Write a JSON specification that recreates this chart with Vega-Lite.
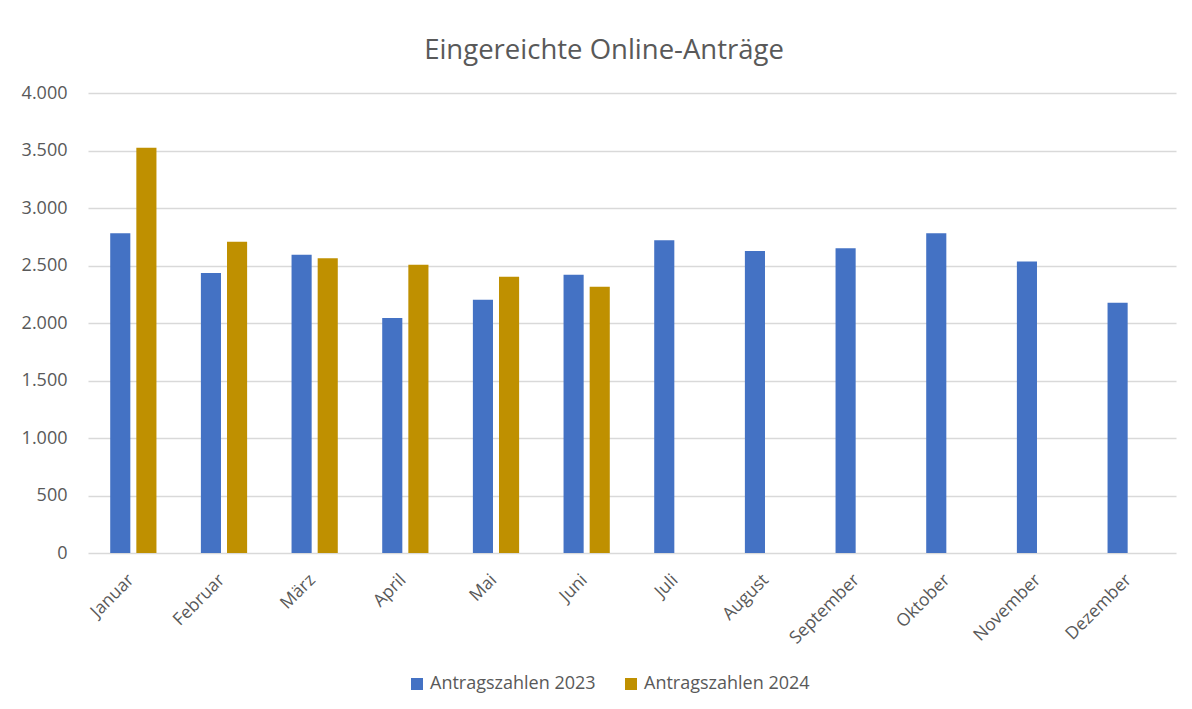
{
  "$schema": "https://vega.github.io/schema/vega-lite/v6.json",
  "autosize": {"type": "none"},
  "padding": {"left": 88, "top": 93, "right": 16, "bottom": 156},
  "width": 1088,
  "height": 460,
  "background": "#ffffff",
  "title": {
    "text": "Eingereichte Online-Anträge",
    "font": "Open Sans",
    "fontSize": 27.5,
    "fontWeight": "normal",
    "color": "#595959",
    "anchor": "middle",
    "dx": -28,
    "offset": 20
  },
  "data": {
    "values": [
      {"monat": "Januar", "serie": "Antragszahlen 2023", "wert": 2780},
      {"monat": "Januar", "serie": "Antragszahlen 2024", "wert": 3525},
      {"monat": "Februar", "serie": "Antragszahlen 2023", "wert": 2434},
      {"monat": "Februar", "serie": "Antragszahlen 2024", "wert": 2706},
      {"monat": "März", "serie": "Antragszahlen 2023", "wert": 2593},
      {"monat": "März", "serie": "Antragszahlen 2024", "wert": 2564},
      {"monat": "April", "serie": "Antragszahlen 2023", "wert": 2043},
      {"monat": "April", "serie": "Antragszahlen 2024", "wert": 2506},
      {"monat": "Mai", "serie": "Antragszahlen 2023", "wert": 2202},
      {"monat": "Mai", "serie": "Antragszahlen 2024", "wert": 2402},
      {"monat": "Juni", "serie": "Antragszahlen 2023", "wert": 2419},
      {"monat": "Juni", "serie": "Antragszahlen 2024", "wert": 2315},
      {"monat": "Juli", "serie": "Antragszahlen 2023", "wert": 2720},
      {"monat": "August", "serie": "Antragszahlen 2023", "wert": 2626},
      {"monat": "September", "serie": "Antragszahlen 2023", "wert": 2650},
      {"monat": "Oktober", "serie": "Antragszahlen 2023", "wert": 2780},
      {"monat": "November", "serie": "Antragszahlen 2023", "wert": 2535},
      {"monat": "Dezember", "serie": "Antragszahlen 2023", "wert": 2177}
    ]
  },
  "mark": {"type": "bar"},
  "encoding": {
    "x": {
      "field": "monat",
      "type": "nominal",
      "sort": ["Januar", "Februar", "März", "April", "Mai", "Juni", "Juli", "August", "September", "Oktober", "November", "Dezember"],
      "scale": {"paddingInner": 0.49, "paddingOuter": 0.245},
      "axis": {
        "title": null,
        "domain": false,
        "ticks": false,
        "labelAngle": -45,
        "labelAlign": "right",
        "labelBaseline": "middle",
        "labelPadding": 24,
        "labelOffset": -2,
        "labelFont": "Open Sans",
        "labelFontSize": 17.5,
        "labelColor": "#595959"
      }
    },
    "xOffset": {
      "field": "serie",
      "type": "nominal",
      "scale": {"domain": ["Antragszahlen 2023", "Antragszahlen 2024"], "paddingInner": 0.23, "paddingOuter": 0}
    },
    "y": {
      "field": "wert",
      "type": "quantitative",
      "scale": {"domain": [0, 4000], "nice": false},
      "axis": {
        "title": null,
        "values": [0, 500, 1000, 1500, 2000, 2500, 3000, 3500, 4000],
        "labelExpr": "replace(format(datum.value, ',d'), ',', '.')",
        "domain": false,
        "ticks": false,
        "grid": true,
        "gridColor": "#d9d9d9",
        "gridWidth": 1.3,
        "labelPadding": 21,
        "labelFont": "Open Sans",
        "labelFontSize": 18,
        "labelColor": "#595959"
      }
    },
    "color": {
      "field": "serie",
      "type": "nominal",
      "scale": {"domain": ["Antragszahlen 2023", "Antragszahlen 2024"], "range": ["#4472C4", "#BF9000"]},
      "legend": {
        "title": null,
        "orient": "none",
        "direction": "horizontal",
        "legendX": 320,
        "legendY": 582,
        "symbolType": "square",
        "symbolSize": 144,
        "symbolStrokeWidth": 0,
        "labelFont": "Open Sans",
        "labelFontSize": 18,
        "labelColor": "#595959",
        "labelOffset": 4,
        "labelLimit": 400,
        "columnPadding": 26
      }
    }
  },
  "config": {
    "view": {"stroke": null}
  }
}
